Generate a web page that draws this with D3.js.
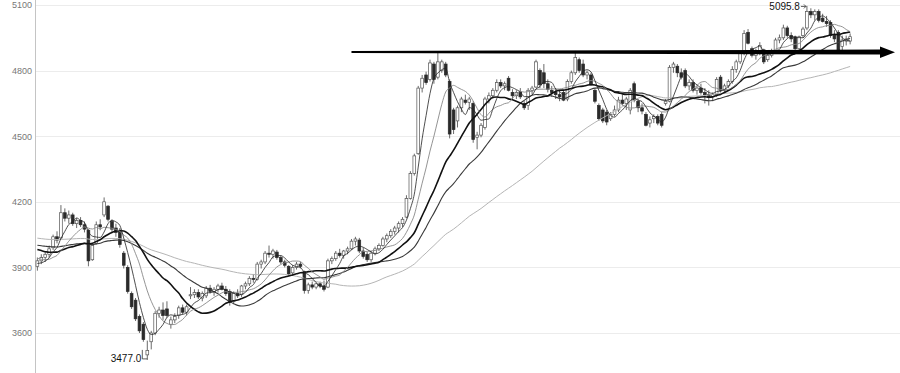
<!DOCTYPE html>
<html>
<head>
<meta charset="utf-8">
<script src="https://cdn.jsdelivr.net/npm/d3@7"></script>
<style>
  body { margin: 0; background: #fff; }
  svg { display: block; }
</style>
</head>
<body>
<svg id="chart" width="900" height="373"></svg>
<script>

// closes before the first visible candle, only used to warm up the averages
var priorCloses = [4060,4075,4090,4070,4050,4065,4085,4100,4080,4060,4040,4055,4075,4095,4110,4090,4070,4050,4035,4045,
    4060,4080,4070,4055,4040,4030,4050,4065,4080,4060,4045,4030,4020,4040,4055,4070,4060,4045,4030,4020,
    4035,4050,4060,4045,4030,4015,4000,3990,4005,4020,4010,3995,3980,3965,3950,3940,3930,3920,3910,3900];

// [open, high, low, close]
var candles = [
    [3905,3945,3885,3930],[3930,3960,3915,3945],[3945,3975,3925,3960],[3960,4000,3945,3985],
    [3990,4050,3980,4040],[4040,4065,4010,4025],[4035,4185,4030,4150],[4150,4170,4110,4125],
    [4125,4160,4100,4140],[4140,4150,4090,4100],[4100,4125,4080,4115],[4115,4130,4085,4095],
    [4095,4110,4060,4075],[4070,4075,3905,3930],[3935,4010,3930,4000],[4010,4110,4005,4095],
    [4095,4120,4070,4085],[4140,4220,4130,4200],[4180,4185,4110,4120],[4110,4120,4060,4075],
    [4080,4100,4040,4060],[4065,4080,3990,4005],[3965,3975,3895,3910],[3900,3910,3780,3790],
    [3780,3790,3710,3720],[3750,3760,3655,3665],[3675,3685,3600,3610],[3640,3650,3560,3570],
    [3500,3565,3477,3520],[3560,3610,3525,3600],[3600,3700,3590,3690],[3690,3720,3670,3705],
    [3705,3740,3660,3680],[3710,3745,3670,3680],[3640,3675,3620,3660],[3660,3690,3645,3675],
    [3680,3725,3665,3715],[3715,3730,3685,3695],[3695,3730,3680,3720],[3770,3810,3755,3775],
    [3775,3800,3760,3785],[3785,3800,3755,3765],[3760,3790,3745,3780],[3770,3815,3760,3805],
    [3805,3820,3780,3790],[3790,3810,3770,3800],[3800,3825,3785,3815],[3815,3830,3795,3800],
    [3800,3815,3770,3780],[3790,3800,3725,3740],[3745,3790,3735,3780],[3780,3800,3760,3770],
    [3775,3820,3765,3815],[3815,3835,3800,3825],[3825,3860,3815,3850],[3850,3870,3830,3845],
    [3845,3925,3840,3915],[3915,3935,3895,3925],[3925,3975,3915,3965],[3965,4000,3945,3960],
    [3960,3985,3940,3975],[3970,3980,3935,3945],[3945,3955,3915,3925],[3925,3935,3900,3910],
    [3905,3910,3860,3870],[3875,3910,3865,3900],[3900,3925,3890,3915],[3915,3925,3895,3905],
    [3880,3885,3780,3795],[3795,3830,3780,3820],[3820,3835,3800,3810],[3810,3830,3800,3825],
    [3825,3835,3805,3815],[3815,3840,3790,3800],[3810,3940,3805,3930],[3930,3950,3915,3940],
    [3940,3975,3930,3965],[3965,3985,3945,3955],[3955,3980,3940,3975],[3975,3995,3960,3985],
    [3985,4030,3980,4020],[4020,4040,4000,4030],[4025,4035,3965,3975],[3975,3990,3940,3950],
    [3960,3970,3925,3935],[3935,3975,3925,3965],[3965,3995,3955,3985],[3985,4010,3975,4000],
    [4000,4040,3995,4030],[4030,4055,4015,4045],[4045,4075,4035,4065],[4065,4090,4050,4080],
    [4080,4110,4060,4100],[4100,4130,4085,4120],[4130,4230,4125,4215],[4215,4340,4210,4330],
    [4330,4420,4320,4410],[4420,4730,4415,4720],[4720,4780,4700,4765],[4780,4795,4735,4745],
    [4760,4850,4750,4835],[4830,4840,4740,4760],[4770,4885,4760,4840],[4800,4850,4790,4840],
    [4830,4840,4770,4780],[4750,4760,4490,4510],[4620,4630,4510,4530],[4570,4640,4540,4630],
    [4630,4680,4610,4670],[4665,4690,4645,4655],[4655,4680,4620,4670],[4650,4660,4470,4485],
    [4495,4520,4440,4505],[4505,4560,4495,4550],[4540,4680,4530,4670],[4670,4700,4650,4685],
    [4685,4720,4670,4710],[4710,4760,4700,4745],[4745,4760,4720,4730],[4730,4750,4710,4740],
    [4765,4775,4705,4710],[4700,4715,4670,4685],[4685,4710,4670,4700],[4700,4720,4670,4680],
    [4650,4660,4620,4630],[4640,4720,4620,4710],[4710,4730,4690,4720],[4725,4850,4720,4840],
    [4800,4810,4720,4735],[4790,4830,4720,4740],[4740,4760,4700,4715],[4710,4730,4680,4700],
    [4700,4720,4670,4690],[4690,4710,4660,4680],[4700,4710,4660,4665],[4670,4760,4660,4750],
    [4750,4800,4740,4790],[4790,4890,4780,4860],[4850,4860,4790,4800],[4830,4850,4770,4780],
    [4780,4800,4760,4790],[4780,4790,4730,4740],[4710,4720,4650,4660],[4640,4650,4570,4580],
    [4620,4630,4560,4570],[4610,4620,4550,4565],[4580,4610,4570,4600],[4600,4640,4590,4620],
    [4620,4680,4610,4665],[4665,4690,4640,4650],[4650,4680,4620,4670],[4620,4720,4600,4710],
    [4740,4750,4655,4665],[4660,4670,4610,4630],[4630,4650,4600,4615],[4600,4610,4545,4550],
    [4560,4590,4540,4575],[4580,4600,4560,4590],[4590,4600,4550,4560],[4600,4610,4540,4550],
    [4650,4670,4640,4660],[4660,4825,4655,4815],[4815,4840,4790,4830],[4820,4830,4770,4790],
    [4790,4810,4760,4770],[4800,4810,4720,4730],[4730,4760,4710,4745],[4745,4760,4700,4710],
    [4710,4730,4690,4720],[4720,4740,4690,4700],[4700,4720,4650,4690],[4690,4710,4640,4680],
    [4680,4700,4660,4690],[4690,4770,4680,4760],[4770,4780,4700,4710],[4710,4740,4700,4730],
    [4730,4760,4720,4750],[4750,4820,4740,4805],[4805,4850,4790,4840],[4840,4890,4830,4880],
    [4880,4985,4870,4970],[4975,4990,4920,4925],[4900,4910,4860,4870],[4870,4900,4850,4880],
    [4880,4930,4870,4915],[4895,4900,4830,4840],[4850,4880,4840,4870],[4870,4900,4860,4885],
    [4890,4950,4880,4940],[4940,4965,4925,4950],[4950,5010,4940,4995],[4995,5005,4950,4960],
    [4960,4975,4930,4945],[4955,4960,4890,4900],[4900,4960,4890,4955],[4960,5000,4950,4990],
    [4995,5095.8,4985,5070],[5070,5085,5040,5055],[5055,5080,5030,5070],[5070,5080,5020,5030],
    [5040,5060,5020,5025],[5025,5050,5000,5015],[5020,5030,4950,4960],[4960,4985,4930,4945],
    [4975,4985,4880,4895],[4910,4960,4890,4940],[4935,4960,4915,4945],[4935,4970,4920,4955]
];

var yTicks = [3600, 3900, 4200, 4500, 4800, 5100];
var maPeriods = [60, 30, 20, 10, 5];
var resistanceValue = 4890;
var resistanceFrom = 80;

var width = 900, height = 373;
var svg = d3.select('#chart');

var x = d3.scaleBand()
    .domain(d3.range(candles.length))
    .range([36, 851.5])
    .paddingInner(0.3);

var y = d3.scaleLinear()
    .domain([3600, 5100])
    .range([333, 5]);

var cx = function(i) { return x(i) + x.bandwidth() / 2; };

// grid + left axis
svg.append('g').selectAll('line')
    .data(yTicks)
    .enter().append('line')
        .attr('x1', 35).attr('x2', width)
        .attr('y1', function(d) { return Math.round(y(d)) + 0.5; })
        .attr('y2', function(d) { return Math.round(y(d)) + 0.5; })
        .attr('stroke', '#ececec');

var yAxis = svg.append('g')
    .attr('transform', 'translate(35,0)')
    .call(d3.axisLeft(y).tickValues(yTicks).tickFormat(d3.format('d')).tickSize(0).tickPadding(3));
yAxis.select('.domain').remove();
yAxis.selectAll('text')
    .attr('fill', '#777')
    .style('font-family', '"Liberation Sans", Arial, sans-serif')
    .style('font-size', '9px');

svg.append('line')
    .attr('x1', 35.5).attr('x2', 35.5)
    .attr('y1', 0).attr('y2', height)
    .attr('stroke', '#c4c4c4');

// candles
var candle = svg.append('g').selectAll('g')
    .data(candles)
    .enter().append('g');

candle.append('line')
    .attr('x1', function(d, i) { return cx(i); })
    .attr('x2', function(d, i) { return cx(i); })
    .attr('y1', function(d) { return y(d[1]); })
    .attr('y2', function(d) { return y(d[2]); })
    .attr('stroke', '#444')
    .attr('stroke-width', 0.8);

candle.append('rect')
    .attr('x', function(d, i) { return x(i); })
    .attr('width', x.bandwidth())
    .attr('y', function(d) { return y(Math.max(d[0], d[3])); })
    .attr('height', function(d) { return Math.max(0.8, Math.abs(y(d[0]) - y(d[3]))); })
    .attr('fill', function(d) { return d[3] >= d[0] ? '#fff' : '#2a2a2a'; })
    .attr('stroke', function(d) { return d[3] >= d[0] ? '#555' : '#2a2a2a'; })
    .attr('stroke-width', 0.7);

// moving averages
var closes = priorCloses.concat(candles.map(function(d) { return d[3]; }));
var offset = priorCloses.length;

var maStyle = {
    60: { color: '#b5b5b5', w: 1 },
    30: { color: '#3a3a3a', w: 1.1 },
    20: { color: '#111', w: 1.6 },
    10: { color: '#888', w: 0.9 },
    5:  { color: '#222', w: 0.8 }
};

var line = d3.line()
    .x(function(d) { return cx(d.i); })
    .y(function(d) { return y(d.v); })
    .curve(d3.curveMonotoneX);

maPeriods.forEach(function(n) {
    var pts = candles.map(function(c, i) {
        var j = i + offset;
        return { i: i, v: d3.mean(closes.slice(Math.max(0, j - n + 1), j + 1)) };
    });
    svg.append('path')
        .datum(pts)
        .attr('d', line)
        .attr('fill', 'none')
        .attr('stroke', maStyle[n].color)
        .attr('stroke-width', maStyle[n].w);
});

// high / low labels
var lowIdx = d3.minIndex(candles, function(d) { return d[2]; });
var highIdx = d3.maxIndex(candles, function(d) { return d[1]; });
var labelFont = '"Liberation Sans Narrow", "Liberation Sans", Arial, sans-serif';

var lowY = y(candles[lowIdx][2]);
svg.append('text')
    .attr('x', cx(lowIdx) - 6)
    .attr('y', lowY + 2)
    .attr('text-anchor', 'end')
    .attr('fill', '#111')
    .style('font-family', labelFont)
    .style('font-size', '10px')
    .text(candles[lowIdx][2].toFixed(1));
svg.append('path')
    .attr('d', 'M' + (cx(lowIdx) - 5) + ',' + (lowY - 10) + 'V' + (lowY - 1) + 'H' + cx(lowIdx))
    .attr('fill', 'none')
    .attr('stroke', '#333')
    .attr('stroke-width', 0.8);

var highY = y(candles[highIdx][1]);
svg.append('text')
    .attr('x', cx(highIdx) - 7)
    .attr('y', highY + 4)
    .attr('text-anchor', 'end')
    .attr('fill', '#111')
    .style('font-family', labelFont)
    .style('font-size', '10px')
    .text(candles[highIdx][1].toFixed(1));
svg.append('path')
    .attr('d', 'M' + (cx(highIdx) - 6) + ',' + (highY + 0.5) + 'H' + (cx(highIdx) - 1)
        + 'M' + (cx(highIdx) - 3) + ',' + (highY - 1.5) + 'L' + (cx(highIdx) - 1) + ',' + (highY + 0.5)
        + 'L' + (cx(highIdx) - 3) + ',' + (highY + 2.5))
    .attr('fill', 'none')
    .attr('stroke', '#333')
    .attr('stroke-width', 0.8);

// resistance arrow
var ry = y(resistanceValue) + 1;
var rx0 = cx(resistanceFrom), rx1 = width - 20, rx2 = width - 5;
svg.append('path')
    .attr('d', 'M' + rx0 + ',' + (ry - 1) + 'L' + rx1 + ',' + (ry - 2.3) + 'L' + rx1 + ',' + (ry - 5.5)
        + 'L' + rx2 + ',' + (ry + 0.3) + 'L' + rx1 + ',' + (ry + 6) + 'L' + rx1 + ',' + (ry + 2.7)
        + 'L' + rx0 + ',' + (ry + 1) + 'Z')
    .attr('fill', '#000');

</script>
</body>
</html>
